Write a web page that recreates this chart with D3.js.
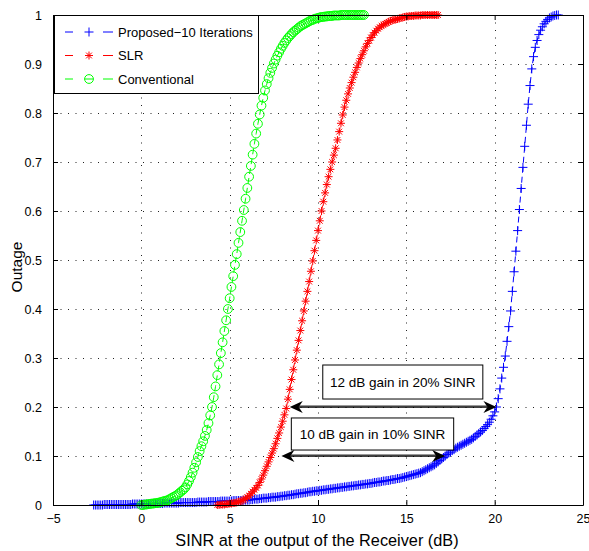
<!DOCTYPE html>
<html>
<head>
<meta charset="utf-8">
<script src="https://cdn.jsdelivr.net/npm/d3@7"></script>
<style>
  body { margin: 0; background: #fff; }
  svg { display: block; font-family: "Liberation Sans", Arial, Helvetica, sans-serif; }
</style>
</head>
<body>
<div id="chart"></div>
<script>
// samples are taken every 0.1 dB
const sampleStep = 0.1;

const seriesNames = ["Proposed\u221210 Iterations", "SLR", "Conventional"];

// Proposed-10 iterations, first sample at -2.7 dB
const proposedStart = -2.7;
const proposedOutage = [
  0, 0, 0, 0, 0, 0, 0.001, 0.001, 0.001, 0.001,
  0.001, 0.001, 0.001, 0.001, 0.001, 0.001, 0.001, 0.001, 0.001, 0.001,
  0.001, 0.001, 0.002, 0.002, 0.002, 0.002, 0.002,
  0.002, 0.002, 0.002, 0.002, 0.002, 0.003, 0.003, 0.003, 0.003, 0.003,
  0.003, 0.003, 0.003, 0.004, 0.004, 0.004, 0.004, 0.004, 0.004, 0.004,
  0.004, 0.004, 0.005, 0.005, 0.005, 0.005, 0.005, 0.005, 0.005, 0.005,
  0.005, 0.005, 0.006, 0.006, 0.006, 0.006, 0.006, 0.006, 0.007, 0.007,
  0.007, 0.007, 0.007, 0.007, 0.007, 0.008, 0.008, 0.008, 0.008, 0.008,
  0.008, 0.008, 0.009, 0.009, 0.009, 0.009, 0.009, 0.009, 0.01, 0.01,
  0.01, 0.01, 0.011, 0.011, 0.012, 0.012, 0.012, 0.013, 0.013, 0.014,
  0.014, 0.014, 0.015, 0.015, 0.016, 0.016, 0.016, 0.017, 0.017, 0.018,
  0.018, 0.019, 0.019, 0.02, 0.02, 0.021, 0.021, 0.022, 0.023, 0.023,
  0.024, 0.024, 0.025, 0.025, 0.026, 0.027, 0.027, 0.028, 0.028, 0.029,
  0.029, 0.03, 0.03, 0.031, 0.031, 0.032, 0.032, 0.033, 0.033, 0.034,
  0.034, 0.035, 0.035, 0.036, 0.036, 0.037, 0.037, 0.038, 0.038, 0.039,
  0.039, 0.04, 0.04, 0.041, 0.041, 0.042, 0.042, 0.043, 0.043, 0.044,
  0.044, 0.045, 0.046, 0.046, 0.047, 0.047, 0.048, 0.049, 0.049, 0.05,
  0.05, 0.051, 0.052, 0.052, 0.053, 0.054, 0.054, 0.055, 0.056, 0.057,
  0.058, 0.059, 0.06, 0.061, 0.062, 0.063, 0.064, 0.065, 0.066, 0.068,
  0.07, 0.072, 0.074, 0.076, 0.078, 0.08, 0.082, 0.085, 0.088, 0.091,
  0.094, 0.097, 0.1, 0.103, 0.106, 0.108, 0.111, 0.113, 0.116, 0.118,
  0.12, 0.122, 0.124, 0.126, 0.128, 0.13, 0.132, 0.134, 0.137, 0.14,
  0.143, 0.146, 0.149, 0.152, 0.156, 0.16, 0.164, 0.169, 0.175, 0.182,
  0.19, 0.2, 0.217, 0.237, 0.259, 0.281, 0.304, 0.334, 0.364, 0.396,
  0.436, 0.476, 0.518, 0.56, 0.603, 0.646, 0.689, 0.732, 0.775, 0.818,
  0.856, 0.89, 0.915, 0.934, 0.948, 0.96, 0.969, 0.976, 0.982, 0.987,
  0.991, 0.994, 0.996, 0.998, 0.999, 1, 1
];

// SLR, first sample at 4.3 dB
const slrStart = 4.3;
const slrOutage = [
  0, 0, 0.001, 0.001, 0.001, 0.002, 0.002, 0.003, 0.003, 0.004,
  0.004, 0.005, 0.006, 0.007, 0.009, 0.011, 0.013, 0.016, 0.019, 0.023,
  0.027, 0.031, 0.035, 0.04, 0.046, 0.053, 0.061, 0.07, 0.079, 0.088,
  0.097, 0.106, 0.115, 0.125, 0.136, 0.147, 0.159, 0.171, 0.184, 0.197,
  0.216, 0.236, 0.256, 0.276, 0.296, 0.316, 0.336, 0.356, 0.376, 0.396,
  0.416, 0.436, 0.456, 0.477, 0.498, 0.519, 0.54, 0.56, 0.58, 0.6,
  0.619, 0.637, 0.654, 0.67, 0.685, 0.7, 0.714, 0.728, 0.745, 0.762,
  0.779, 0.796, 0.812, 0.826, 0.839, 0.851, 0.862, 0.873, 0.883, 0.893,
  0.902, 0.911, 0.919, 0.927, 0.935, 0.942, 0.948, 0.954, 0.959, 0.964,
  0.968, 0.972, 0.975, 0.978, 0.98, 0.982, 0.984, 0.986, 0.988, 0.989,
  0.99, 0.991, 0.992, 0.993, 0.994, 0.995, 0.996, 0.997, 0.997, 0.998,
  0.998, 0.998, 0.999, 0.999, 0.999, 0.999, 1, 1, 1, 1,
  1, 1, 1, 1, 1, 1
];

// Conventional, first sample at 0 dB
const convStart = 0;
const convOutage = [
  0, 0, 0.001, 0.001, 0.002, 0.002, 0.003, 0.003, 0.004, 0.004,
  0.005, 0.006, 0.007, 0.008, 0.009, 0.01, 0.012, 0.014, 0.016, 0.018,
  0.02, 0.023, 0.026, 0.029, 0.032, 0.036, 0.042, 0.049, 0.057, 0.066,
  0.076, 0.087, 0.098, 0.11, 0.12, 0.13, 0.141, 0.153, 0.167, 0.183,
  0.2, 0.22, 0.242, 0.265, 0.287, 0.31, 0.332, 0.355, 0.377, 0.4,
  0.422, 0.445, 0.467, 0.49, 0.512, 0.535, 0.557, 0.58, 0.602, 0.625,
  0.647, 0.67, 0.692, 0.715, 0.737, 0.758, 0.778, 0.797, 0.815, 0.831,
  0.846, 0.859, 0.871, 0.882, 0.892, 0.901, 0.909, 0.917, 0.924, 0.931,
  0.937, 0.943, 0.948, 0.953, 0.957, 0.961, 0.965, 0.968, 0.971, 0.974,
  0.977, 0.979, 0.981, 0.983, 0.985, 0.987, 0.989, 0.99, 0.992, 0.993,
  0.994, 0.995, 0.996, 0.996, 0.997, 0.997, 0.998, 0.998, 0.998, 0.999,
  0.999, 0.999, 0.999, 1, 1, 1, 1, 1, 1, 1,
  1, 1, 1, 1, 1, 1, 1
];

const xTicks = [-5, 0, 5, 10, 15, 20, 25];
const yTicks = [0, 0.1, 0.2, 0.3, 0.4, 0.5, 0.6, 0.7, 0.8, 0.9, 1];

// gain annotations (outage level, SLR end, proposed end)
const gainLabels = ["12 dB gain in 20% SINR", "10 dB gain in 10% SINR"];
const gainLevels = [0.2, 0.1];
const gainFrom = [8.4, 7.93];
const gainTo = [20.1, 17.2];

const width = 589, height = 551;
const margin = { top: 15, right: 6, bottom: 46, left: 53 };

// text boxes of the annotations, in data units [x0, x1, yTop, yBottom]
const gainBoxes = [
  [10.27, 19.33, 0.2857, 0.2163],
  [8.49, 17.68, 0.1776, 0.1122],
];

const toPoints = (start, values) =>
  values.map((v, i) => ({ x: +(start + i * sampleStep).toFixed(1), y: v }));

const series = [
  { name: seriesNames[0], color: "#0000ff", marker: "plus", points: toPoints(proposedStart, proposedOutage) },
  { name: seriesNames[1], color: "#ff0000", marker: "star", points: toPoints(slrStart, slrOutage) },
  { name: seriesNames[2], color: "#00ff00", marker: "circle", points: toPoints(convStart, convOutage) },
];

const x = d3.scaleLinear().domain([-5, 25]).range([margin.left, width - margin.right]);
const y = d3.scaleLinear().domain([0, 1]).range([height - margin.bottom, margin.top]);

const svg = d3.select("#chart").append("svg")
  .attr("width", width)
  .attr("height", height);

// dotted grid
const grid = svg.append("g").attr("stroke", "#222").attr("stroke-width", 1)
  .attr("stroke-dasharray", "1,6.5");
grid.selectAll("line.v").data(xTicks.slice(1, -1)).join("line")
  .attr("class", "v")
  .attr("x1", d => Math.round(x(d)) + 0.5).attr("x2", d => Math.round(x(d)) + 0.5)
  .attr("y1", y(1)).attr("y2", y(0));
grid.selectAll("line.h").data(yTicks.slice(1, -1)).join("line")
  .attr("class", "h")
  .attr("y1", d => Math.round(y(d)) + 0.5).attr("y2", d => Math.round(y(d)) + 0.5)
  .attr("x1", x(-5)).attr("x2", x(25));

// marker shapes
const markerPath = {
  plus: "M-4.5,0H4.5M0,-4.5V4.5",
  star: "M-4,0H4M0,-4V4M-2.9,-2.9L2.9,2.9M-2.9,2.9L2.9,-2.9",
};

function drawMarkers(g, s, pts) {
  if (s.marker === "circle") {
    g.selectAll("circle").data(pts).join("circle")
      .attr("cx", d => x(d.x)).attr("cy", d => y(d.y))
      .attr("r", 4.4)
      .attr("fill", "none").attr("stroke", s.color).attr("stroke-width", 1);
  } else {
    g.selectAll("path.m").data(pts).join("path")
      .attr("class", "m")
      .attr("d", markerPath[s.marker])
      .attr("transform", d => `translate(${x(d.x)},${y(d.y)})`)
      .attr("fill", "none").attr("stroke", s.color).attr("stroke-width", 1);
  }
}

const line = d3.line().x(d => x(d.x)).y(d => y(d.y));

const plot = svg.append("g");
series.forEach(s => {
  const g = plot.append("g");
  g.append("path")
    .attr("d", line(s.points))
    .attr("fill", "none")
    .attr("stroke", s.color)
    .attr("stroke-width", 1)
    .attr("stroke-dasharray", "6,4");
  drawMarkers(g, s, s.points);
});

// axes box with inward ticks on every side
const axisFont = g => g.selectAll("text").attr("font-size", 12.5).attr("fill", "#000")
  .attr("font-family", "'Liberation Sans', Arial, sans-serif");
const clean = g => { g.select(".domain").attr("stroke", "#000"); g.selectAll(".tick line").attr("stroke", "#000"); };

svg.append("g")
  .attr("transform", `translate(0,${y(0)})`)
  .call(d3.axisBottom(x).tickValues(xTicks).tickSizeInner(-5).tickSizeOuter(0).tickPadding(9))
  .call(axisFont).call(clean);
svg.append("g")
  .attr("transform", `translate(0,${y(1)})`)
  .call(d3.axisTop(x).tickValues(xTicks).tickSizeInner(-5).tickSizeOuter(0).tickFormat(""))
  .call(clean);
svg.append("g")
  .attr("transform", `translate(${x(-5)},0)`)
  .call(d3.axisLeft(y).tickValues(yTicks).tickSizeInner(-5).tickSizeOuter(0).tickPadding(11).tickFormat(d3.format("~g")))
  .call(axisFont).call(clean);
svg.append("g")
  .attr("transform", `translate(${x(25)},0)`)
  .call(d3.axisRight(y).tickValues(yTicks).tickSizeInner(-5).tickSizeOuter(0).tickFormat(""))
  .call(clean);

// axis titles
svg.append("text")
  .attr("x", 317).attr("y", 546)
  .attr("text-anchor", "middle")
  .attr("font-size", 16.3)
  .text("SINR at the output of the Receiver (dB)");
svg.append("text")
  .attr("transform", `translate(22,267) rotate(-90)`)
  .attr("text-anchor", "middle")
  .attr("font-size", 15.5)
  .text("Outage");

// gain annotations
const ann = svg.append("g");
gainBoxes.forEach((b, i) => {
  ann.append("rect")
    .attr("x", x(b[0])).attr("y", y(b[2]))
    .attr("width", x(b[1]) - x(b[0])).attr("height", y(b[3]) - y(b[2]))
    .attr("fill", "#fff").attr("stroke", "#000").attr("stroke-width", 1);
  ann.append("text")
    .attr("x", (x(b[0]) + x(b[1])) / 2).attr("y", (y(b[2]) + y(b[3])) / 2)
    .attr("dy", "0.35em")
    .attr("text-anchor", "middle")
    .attr("font-size", 13.5)
    .text(gainLabels[i]);
});

// double headed arrows
gainLevels.forEach((lv, i) => {
  const yy = y(lv), x0 = x(gainFrom[i]), x1 = x(gainTo[i]);
  ann.append("line")
    .attr("x1", x0 + 9).attr("x2", x1 - 9).attr("y1", yy - 1.5).attr("y2", yy - 1.5)
    .attr("stroke", "#999").attr("stroke-width", 1);
  ann.append("line")
    .attr("x1", x0 + 9).attr("x2", x1 - 9).attr("y1", yy).attr("y2", yy)
    .attr("stroke", "#000").attr("stroke-width", 1.3);
  ann.append("path")
    .attr("d", `M${x0},${yy}L${x0 + 13},${yy - 6}L${x0 + 9},${yy}L${x0 + 13},${yy + 6}Z`)
    .attr("fill", "#000");
  ann.append("path")
    .attr("d", `M${x1},${yy}L${x1 - 13},${yy - 6}L${x1 - 9},${yy}L${x1 - 13},${yy + 6}Z`)
    .attr("fill", "#000");
});

// legend
const legend = svg.append("g");
legend.append("rect")
  .attr("x", 54.5).attr("y", 15.5).attr("width", 204).attr("height", 78)
  .attr("fill", "#fff").attr("stroke", "#000").attr("stroke-width", 1);
series.forEach((s, i) => {
  const ly = 32 + i * 23.5;
  const g = legend.append("g");
  g.append("line")
    .attr("x1", 65).attr("x2", 113).attr("y1", ly).attr("y2", ly)
    .attr("stroke", s.color).attr("stroke-width", 1)
    .attr("stroke-dasharray", "8,30,10");
  const m = g.append("g").attr("transform", `translate(89,${ly})`);
  if (s.marker === "circle") {
    m.append("circle").attr("r", 4.4).attr("fill", "none").attr("stroke", s.color);
    m.append("line").attr("x1", -4.4).attr("x2", 4.4).attr("stroke", s.color);
  } else {
    m.append("path").attr("d", markerPath[s.marker]).attr("fill", "none").attr("stroke", s.color);
  }
  g.append("text")
    .attr("x", 118).attr("y", ly).attr("dy", "0.35em")
    .attr("font-size", 13)
    .text(s.name);
});
</script>
</body>
</html>
